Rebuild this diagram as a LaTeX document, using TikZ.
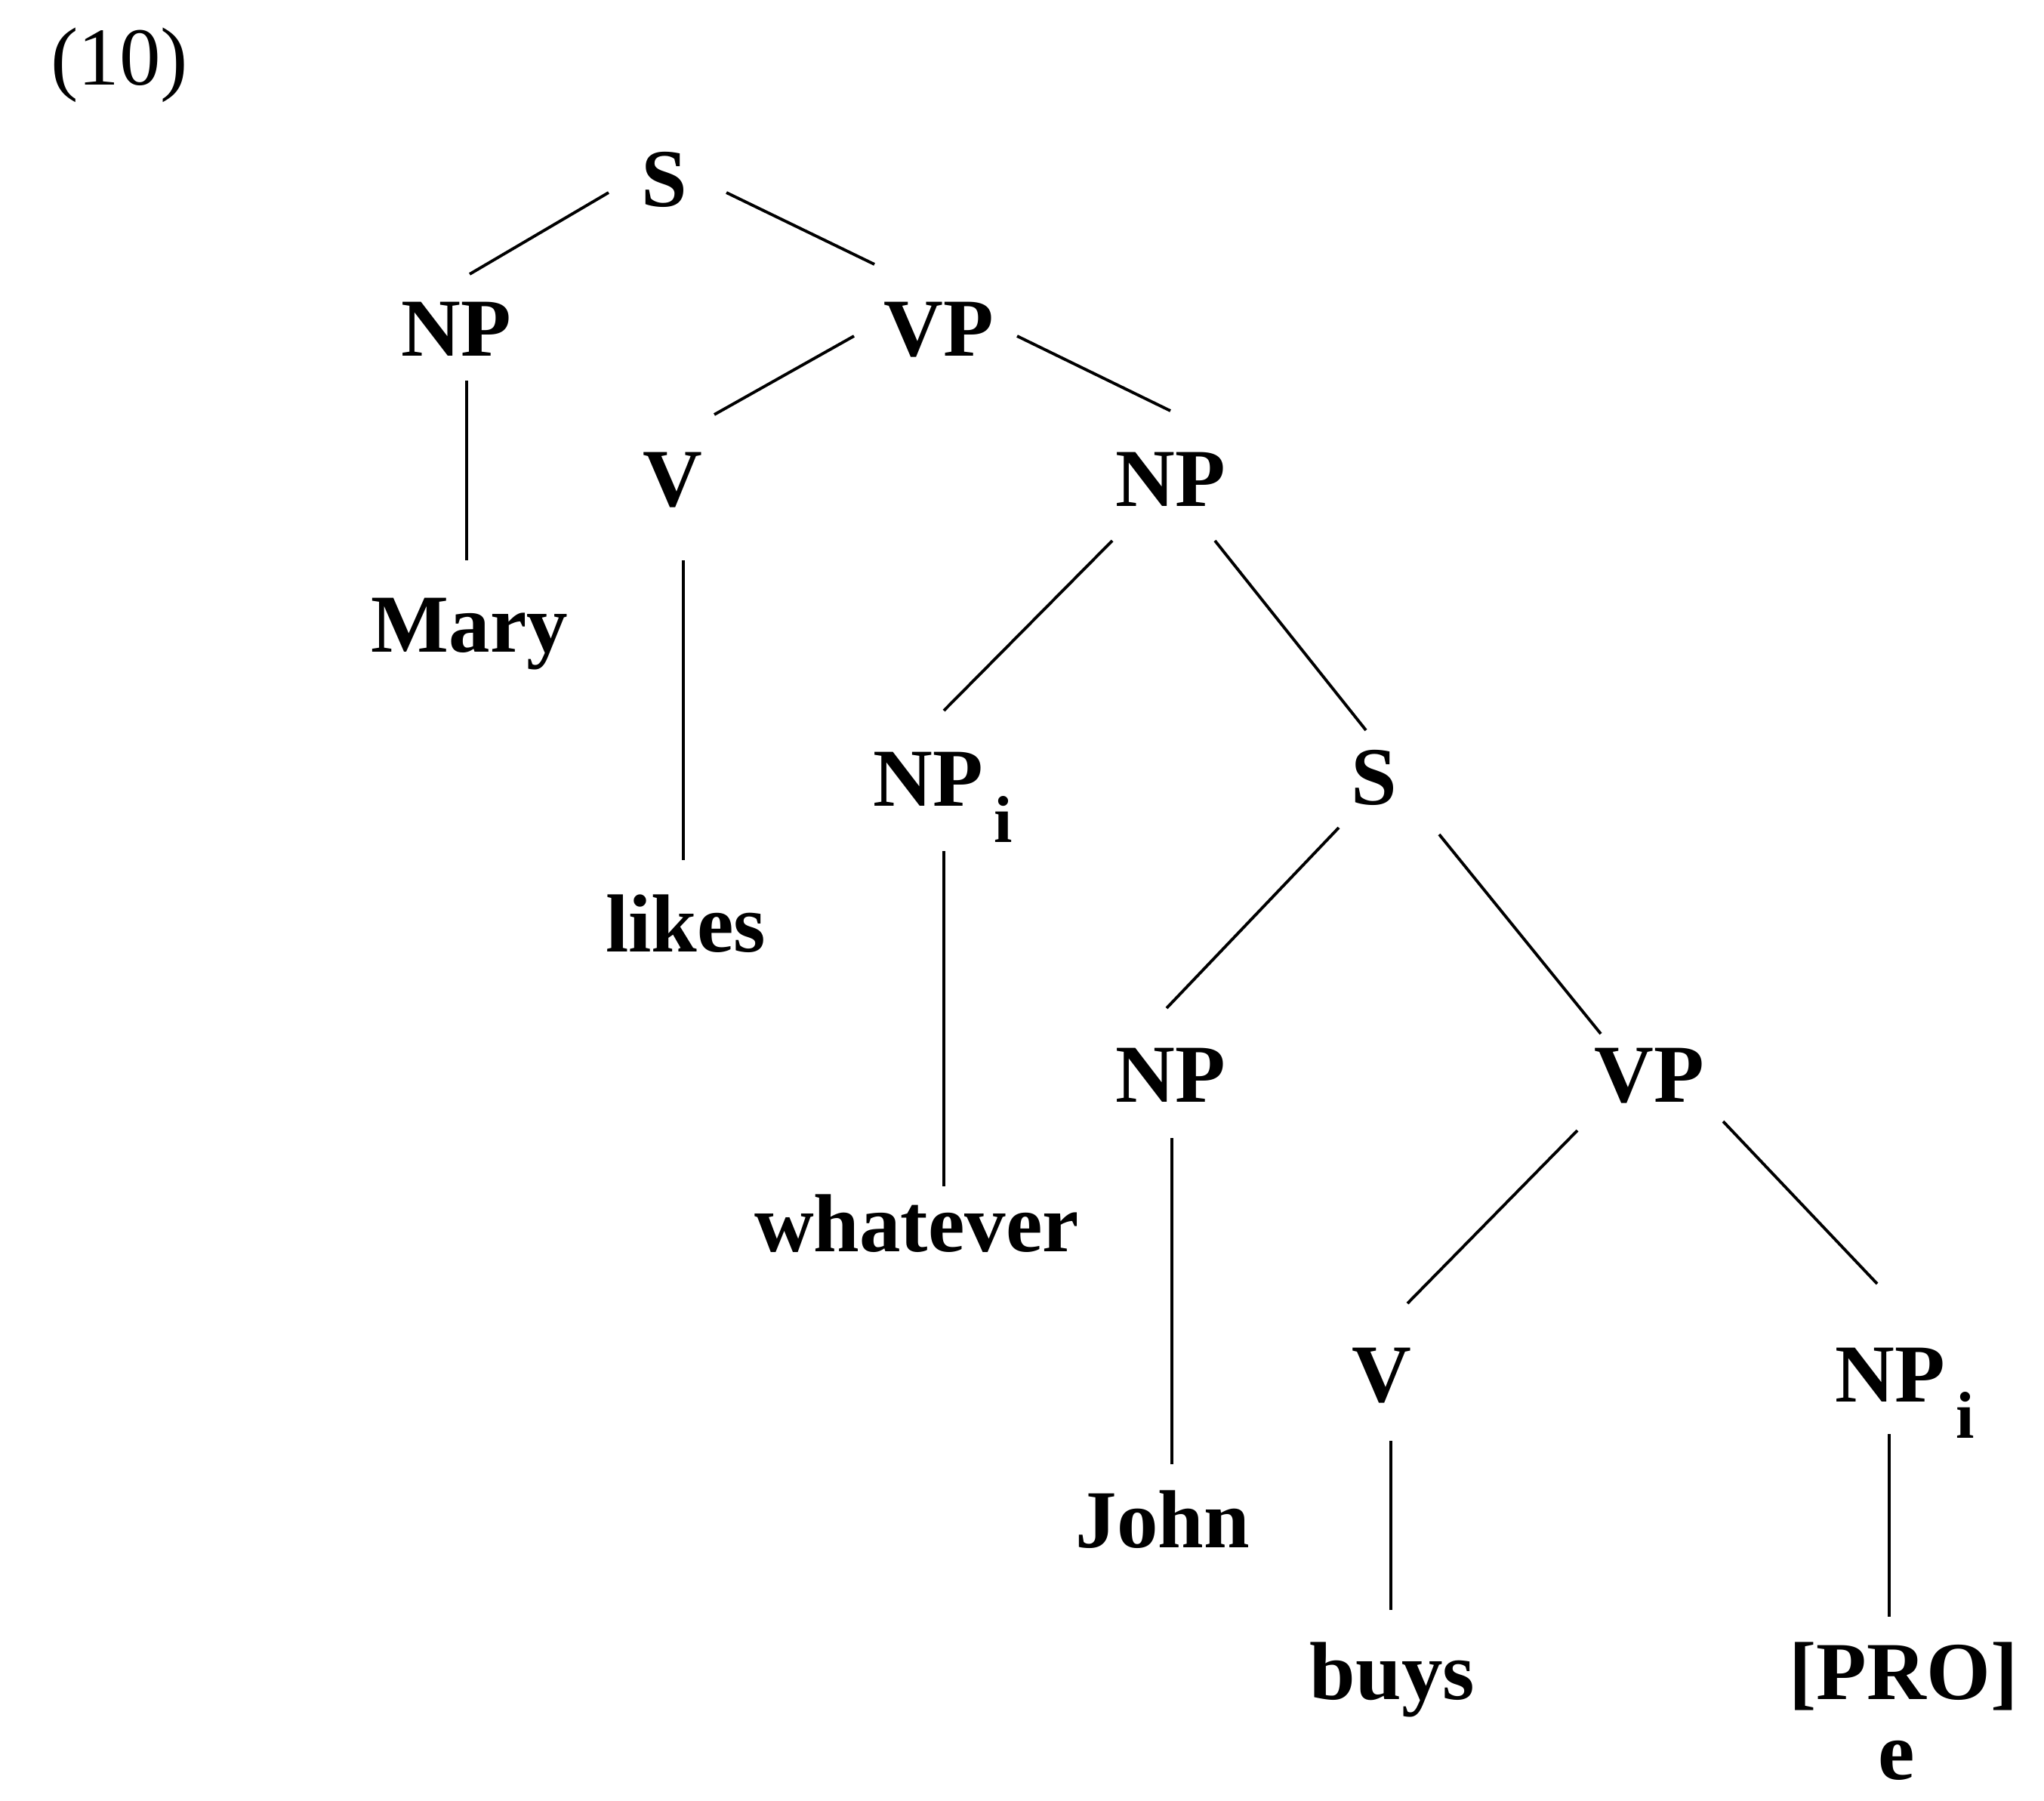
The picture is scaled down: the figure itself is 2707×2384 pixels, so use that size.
\documentclass[tikz,border=0pt]{standalone}
\usepackage{fontspec}
\setmainfont{Liberation Serif}
\begin{document}
\begin{tikzpicture}[x=0.01cm,y=-0.01cm,
  lab/.style={inner sep=0pt, anchor=base, font=\fontsize{31}{37}\selectfont\bfseries},
  edge/.style={line width=1.1pt}]
\useasboundingbox (0,0) rectangle (2707,2384);
\newcommand{\subi}{\kern 4pt\raisebox{-13.7pt}{\fontsize{25}{30}\selectfont i}}
\node[inner sep=0pt, anchor=base, font=\fontsize{31}{37}\selectfont] (ex) at (158,112) {(10)};
\node[lab] (S1) at (880,273) {S};
\node[lab] (NP1) at (604,471) {NP};
\node[lab] (VP1) at (1243,471) {VP};
\node[lab] (V1) at (891,670) {V};
\node[lab] (NP2) at (1550,670) {NP};
\node[lab] (Mary) at (622,863) {Mary};
\node[lab] (likes) at (908,1260) {likes};
\node[lab, anchor=base west] (NPi1) at (1156,1067) {NP\subi};
\node[lab] (S2) at (1820,1065) {S};
\node[lab] (whatever) at (1214,1657) {whatever};
\node[lab] (NP3) at (1550,1459) {NP};
\node[lab] (VP2) at (2184,1459) {VP};
\node[lab] (John) at (1540,2049) {John};
\node[lab] (V2) at (1830,1856) {V};
\node[lab, anchor=base west] (NPi2) at (2430,1856) {NP\subi};
\node[lab] (buys) at (1844,2250) {buys};
\node[lab] (PRO) at (2521,2250) {[PRO]};
\node[lab] (e) at (2512,2356) {e};

\draw[edge] ([shift={(-74,-18)}]S1.base) -- ([shift={(18,-108)}]NP1.base);
\draw[edge] ([shift={(82,-18)}]S1.base) -- ([shift={(-85,-121)}]VP1.base);
\draw[edge] ([shift={(14,33)}]NP1.base) -- ([shift={(-4,-121)}]Mary.base);
\draw[edge] ([shift={(-112,-26)}]VP1.base) -- ([shift={(55,-121)}]V1.base);
\draw[edge] ([shift={(104,-26)}]VP1.base) -- ([shift={(0,-126)}]NP2.base);
\draw[edge] ([shift={(14,72)}]V1.base) -- ([shift={(-3,-121)}]likes.base);
\draw[edge] ([shift={(-77,46)}]NP2.base) -- ([shift={(94,-126)}]NPi1.base west);
\draw[edge] ([shift={(59,46)}]NP2.base) -- ([shift={(-11,-98)}]S2.base);
\draw[edge] ([shift={(94,60)}]NPi1.base west) -- ([shift={(36,-86)}]whatever.base);
\draw[edge] ([shift={(-47,31)}]S2.base) -- ([shift={(-5,-124)}]NP3.base);
\draw[edge] ([shift={(86,40)}]S2.base) -- ([shift={(-64,-90)}]VP2.base);
\draw[edge] ([shift={(2,48)}]NP3.base) -- ([shift={(12,-110)}]John.base);
\draw[edge] ([shift={(-95,38)}]VP2.base) -- ([shift={(34,-130)}]V2.base);
\draw[edge] ([shift={(98,26)}]VP2.base) -- ([shift={(56,-156)}]NPi2.base west);
\draw[edge] ([shift={(12,52)}]V2.base) -- ([shift={(-2,-118)}]buys.base);
\draw[edge] ([shift={(72,43)}]NPi2.base west) -- ([shift={(-19,-109)}]PRO.base);
\end{tikzpicture}
\end{document}
